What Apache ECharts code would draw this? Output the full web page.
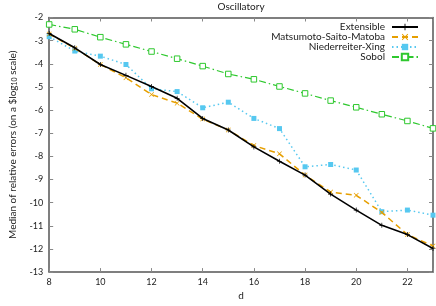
<!DOCTYPE html>
<html><head><meta charset="utf-8">
<script src="https://cdn.jsdelivr.net/npm/echarts@6/dist/echarts.min.js"></script>
<style>html,body{margin:0;padding:0;background:#fff}#c{width:436px;height:306px}</style>
</head><body><div id="c"></div>
<script>
const dims = [8,9,10,11,12,13,14,15,16,17,18,19,20,21,22,23];
const extensible = [-2.69,-3.31,-4.03,-4.50,-4.98,-5.49,-6.36,-6.86,-7.59,-8.21,-8.81,-9.63,-10.32,-10.98,-11.38,-11.98];
const matsumoto = [-2.71,-3.33,-4.03,-4.60,-5.33,-5.70,-6.39,-6.86,-7.53,-7.89,-8.81,-9.54,-9.68,-10.42,-11.38,-11.87];
const niederreiter = [-2.83,-3.45,-3.67,-4.03,-5.08,-5.20,-5.90,-5.66,-6.36,-6.80,-8.45,-8.35,-8.59,-10.39,-10.32,-10.54];
const sobol = [-2.30,-2.51,-2.85,-3.16,-3.47,-3.78,-4.10,-4.44,-4.67,-4.98,-5.28,-5.59,-5.88,-6.18,-6.47,-6.79];
const names = ['Extensible','Matsumoto-Saito-Matoba','Niederreiter-Xing','Sobol'];

const FONT = 'Lato';
const pts = a => dims.map((d,i)=>[d,a[i]]);
const plus = 'path://M-1,-0.14H1V0.14H-1Z M-0.14,-1H0.14V1H-0.14Z';
const cross = 'path://M-1,-0.8L-0.8,-1L1,0.8L0.8,1Z M0.8,-1L1,-0.8L-0.8,1L-1,0.8Z';
const axisCol = '#555';
const chart = echarts.init(document.getElementById('c'), null, {renderer:'canvas'});
chart.setOption({
  animation:false,
  backgroundColor:'#fff',
  textStyle:{fontFamily:FONT},
  title:{text:'Oscillatory', left:236, top:-3, textAlign:'center',
    textStyle:{fontSize:10, fontWeight:'normal', color:'#222', fontFamily:FONT}},
  legend:{right:12, top:17, orient:'vertical', align:'right', itemGap:0,
    itemWidth:26, itemHeight:8,
    textStyle:{fontSize:10, color:'#222', fontFamily:FONT, padding:[0,2,0,0]},
    data:names},
  grid:{left:36, right:3, top:17.5, bottom:28},
  xAxis:[{type:'value', min:8, max:23, interval:2,
    name:'d', nameLocation:'middle', nameGap:16,
    nameTextStyle:{fontSize:10, color:'#222', fontFamily:FONT},
    axisLine:{show:true, lineStyle:{color:axisCol, width:1.5}},
    axisTick:{show:true, inside:true, length:4, lineStyle:{color:'#888'}},
    axisLabel:{fontSize:9, color:'#222', margin:5, fontFamily:FONT,
      customValues:[8,10,12,14,16,18,20,22]},
    splitLine:{show:false}},
    {type:'value', min:8, max:23, interval:2, position:'top',
    axisLine:{show:true, lineStyle:{color:axisCol, width:1.5}},
    axisTick:{show:true, inside:true, length:4, lineStyle:{color:'#888'}},
    axisLabel:{show:false}, splitLine:{show:false}}],
  yAxis:[{type:'value', min:-13, max:-2, interval:1,
    name:'Median of relative errors (on a {s|$log}{sub|10}{s| scale)}',
    nameLocation:'middle', nameGap:25, nameRotate:90,
    nameTextStyle:{fontSize:10, color:'#222', fontFamily:FONT,
      rich:{s:{fontSize:10, color:'#222', fontFamily:FONT},
            sub:{fontSize:7, color:'#222', fontFamily:FONT, padding:[4,0,0,0]}}},
    axisLine:{show:true, lineStyle:{color:axisCol, width:1.5}},
    axisTick:{show:true, inside:true, length:4, lineStyle:{color:'#888'}},
    axisLabel:{fontSize:9, color:'#222', margin:6, fontFamily:FONT},
    splitLine:{show:false}},
    {type:'value', min:-13, max:-2, interval:1, position:'right',
    axisLine:{show:true, lineStyle:{color:axisCol, width:1.5}},
    axisTick:{show:true, inside:true, length:4, lineStyle:{color:'#888'}},
    axisLabel:{show:false}, splitLine:{show:false}}],
  series:[
    {name:names[0], type:'line', data:pts(extensible), z:5,
      symbol:plus, symbolSize:5, color:'#000',
      lineStyle:{color:'#000', width:1.6, type:'solid'},
      itemStyle:{color:'#000'}},
    {name:names[1], type:'line', data:pts(matsumoto), z:4,
      symbol:cross, symbolSize:5, color:'#e69f00',
      lineStyle:{color:'#e69f00', width:1.5, type:[6,4]},
      itemStyle:{color:'#e69f00'}},
    {name:names[2], type:'line', data:pts(niederreiter), z:3,
      symbol:'rect', symbolSize:5, color:'#56c8f0',
      lineStyle:{color:'#56c8f0', width:1.5, type:[1.5,3]},
      itemStyle:{color:'#56c8f0'}},
    {name:names[3], type:'line', data:pts(sobol), z:2,
      symbol:'rect', symbolSize:5.5, color:'#2ec82e',
      lineStyle:{color:'#2ec82e', width:1.2, type:[7,3,1.5,3]},
      itemStyle:{color:'#fff', borderColor:'#2ec82e', borderWidth:1}}
  ]
});
</script></body></html>
